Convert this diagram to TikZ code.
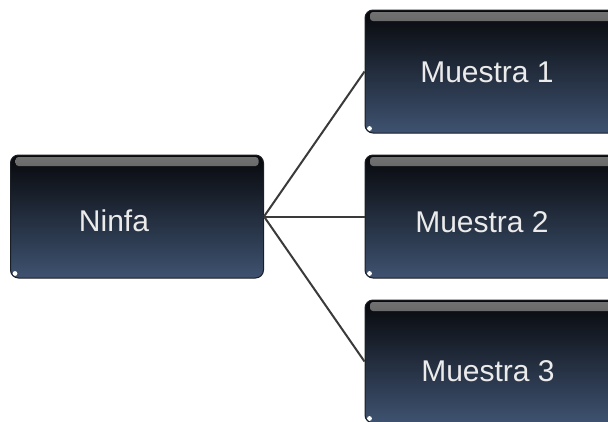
\documentclass[tikz,border=0pt]{standalone}
\usepackage{fontspec}
\setmainfont{Liberation Sans}
\definecolor{boxtop}{HTML}{07080B}
\definecolor{boxmid}{HTML}{121924}
\definecolor{boxbot}{HTML}{3E5270}
\definecolor{rim}{HTML}{1A1E25}
\definecolor{linkcol}{HTML}{3A3A3A}
\begin{document}
\begin{tikzpicture}[x=1pt,y=-1pt,
  boxnode/.style={rectangle, rounded corners=8pt, minimum width=253pt, minimum height=123pt,
    inner sep=0pt, top color=boxtop, middle color=boxmid, bottom color=boxbot,
    draw=rim, line width=1pt,
    path picture={
      \shade[top color=black!55, bottom color=boxtop, rounded corners=3pt]
        ([xshift=5pt,yshift=-2pt]path picture bounding box.north west) rectangle
        ([xshift=-5pt,yshift=-11pt]path picture bounding box.north east);
      \fill[white] ([xshift=4.5pt,yshift=4.5pt]path picture bounding box.south west) circle (2.4pt);
    }},
  labeltext/.style={text=white!92!black, font=\fontsize{30}{34}\selectfont, inner sep=0pt},
  link/.style={draw=linkcol, line width=2pt}
]
\useasboundingbox (0,0) rectangle (608,421);
\clip (0,0) rectangle (608,421);
\node[boxnode] (ninfa) at (137,216.5) {};
\node[boxnode] (m1) at (491.5,71.5) {};
\node[boxnode] (m2) at (491.5,216.5) {};
\node[boxnode] (m3) at (491.5,361.5) {};
\node[labeltext] (tninfa) at (114,221) {Ninfa};
\node[labeltext] (tm1) at (487,72) {Muestra 1};
\node[labeltext] (tm2) at (482,222) {Muestra 2};
\node[labeltext] (tm3) at (488,371) {Muestra 3};
\draw[link] (ninfa.east) -- (m1.west);
\draw[link] (ninfa.east) -- (m2.west);
\draw[link] (ninfa.east) -- (m3.west);
\end{tikzpicture}
\end{document}
